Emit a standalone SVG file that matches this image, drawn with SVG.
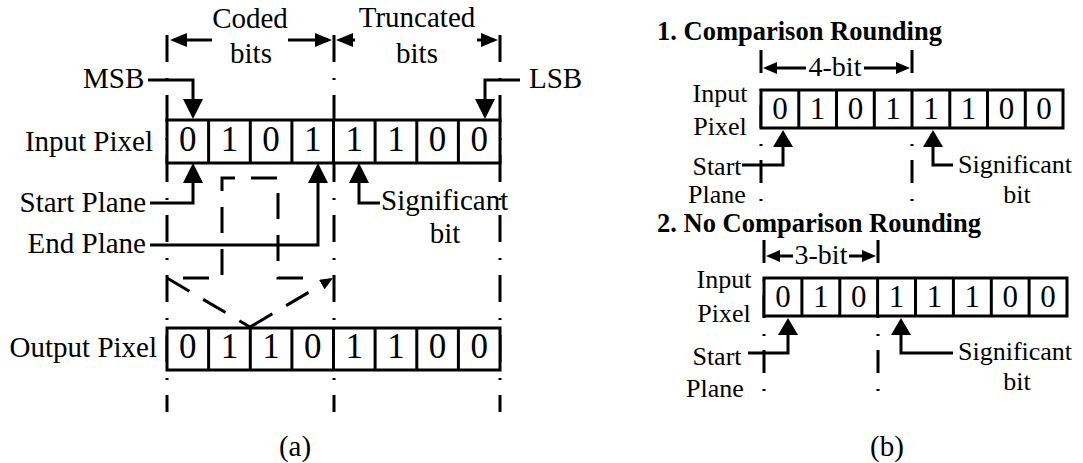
<svg xmlns="http://www.w3.org/2000/svg" width="1083" height="463" viewBox="0 0 1083 463">
  <style>
    text { font-family: "Liberation Serif", "Times New Roman", serif; fill: #000; }
    .lbl { font-size: 29px; }
    .lbl-b { font-size: 26px; }
    .span-b { font-size: 28px; text-anchor: middle; }
    .dig { font-size: 35px; text-anchor: middle; }
    .dig-b { font-size: 31px; text-anchor: middle; }
    .ttl { font-size: 26.5px; font-weight: bold; }
    .mid { text-anchor: middle; }
    .end { text-anchor: end; }
    .cell { fill: #fff; stroke: #000; stroke-width: 3; }
    .wire { fill: none; stroke: #000; stroke-width: 3; }
    .dd-a { fill: none; stroke: #000; stroke-width: 3; stroke-dasharray: 27 16 2 15; }
    .dd-b { fill: none; stroke: #000; stroke-width: 3; stroke-dasharray: 23 16 2 14; }
    .dash { fill: none; stroke: #000; stroke-width: 3; stroke-dasharray: 26 16; }
  </style>
  <defs>
    <!-- arrowheads: tip sits a few px past the line end -->
    <marker id="ah-a" viewBox="0 0 20 20" markerWidth="20" markerHeight="20" refX="16" refY="10" orient="auto" markerUnits="userSpaceOnUse">
      <path d="M0,0 L20,10 L0,20 z"/>
    </marker>
    <marker id="ah-span" viewBox="0 0 17 14" markerWidth="17" markerHeight="14" refX="13" refY="7" orient="auto" markerUnits="userSpaceOnUse">
      <path d="M0,0 L17,7 L0,14 z"/>
    </marker>
    <marker id="ah-dash" viewBox="0 0 13 11" markerWidth="13" markerHeight="11" refX="10" refY="5.5" orient="auto" markerUnits="userSpaceOnUse">
      <path d="M0,0 L13,5.5 L0,11 z"/>
    </marker>
    <marker id="ah-b" viewBox="0 0 17 20" markerWidth="17" markerHeight="20" refX="13" refY="10" orient="auto" markerUnits="userSpaceOnUse">
      <path d="M0,0 L17,10 L0,20 z"/>
    </marker>
    <marker id="ah-span-b" viewBox="0 0 14 12" markerWidth="14" markerHeight="12" refX="10" refY="6" orient="auto" markerUnits="userSpaceOnUse">
      <path d="M0,0 L14,6 L0,12 z"/>
    </marker>
  </defs>

  <rect width="1083" height="463" fill="#fff"/>

  <!-- ===== (a) ===== -->
  <g id="a-guides">
    <line class="dd-a" x1="167" y1="35" x2="167" y2="412"/>
    <line class="dd-a" x1="334" y1="35" x2="334" y2="412"/>
    <line class="dd-a" x1="500" y1="35" x2="500" y2="412"/>
  </g>

  <g id="a-span-labels">
    <text class="lbl mid" x="250" y="28">Coded</text>
    <text class="lbl mid" x="251" y="63">bits</text>
    <text class="lbl mid" x="417" y="27">Truncated</text>
    <text class="lbl mid" x="417" y="63">bits</text>
  </g>

  <g id="a-input-pixel">
    <text class="lbl end" x="153" y="151">Input Pixel</text>
    <rect class="cell" x="167" y="120" width="333" height="43"/>
    <path class="wire" d="M208.6,120V163M250.3,120V163M291.9,120V163M333.5,120V163M375.1,120V163M416.8,120V163M458.4,120V163"/>
    <text class="dig" y="151"><tspan x="187.8">0</tspan><tspan x="229.4">1</tspan><tspan x="271.1">0</tspan><tspan x="312.7">1</tspan><tspan x="354.3">1</tspan><tspan x="395.9">1</tspan><tspan x="437.6">0</tspan><tspan x="479.2">0</tspan></text>
  </g>

  <g id="a-output-pixel">
    <text class="lbl end" x="157" y="357">Output Pixel</text>
    <rect class="cell" x="167" y="328" width="333" height="42"/>
    <path class="wire" d="M208.6,328V370M250.3,328V370M291.9,328V370M333.5,328V370M375.1,328V370M416.8,328V370M458.4,328V370"/>
    <text class="dig" y="358"><tspan x="187.8">0</tspan><tspan x="229.4">1</tspan><tspan x="271.1">1</tspan><tspan x="312.7">0</tspan><tspan x="354.3">1</tspan><tspan x="395.9">1</tspan><tspan x="437.6">0</tspan><tspan x="479.2">0</tspan></text>
  </g>

  <g id="a-msb"><text class="lbl" x="83" y="88">MSB</text></g>
  <g id="a-lsb"><text class="lbl" x="529" y="88">LSB</text></g>
  <g id="a-start-plane"><text class="lbl end" x="146" y="212">Start Plane</text></g>
  <g id="a-end-plane"><text class="lbl end" x="146" y="253">End Plane</text></g>
  <g id="a-significant">
    <text class="lbl" x="381" y="210">Significant</text>
    <text class="lbl mid" x="445" y="243">bit</text>
  </g>
  <g id="a-caption"><text class="lbl mid" x="295" y="456">(a)</text></g>

  <g id="a-connectors">
    <line class="wire" x1="212" y1="40" x2="174" y2="40" marker-end="url(#ah-span)"/>
    <line class="wire" x1="288" y1="40" x2="328" y2="40" marker-end="url(#ah-span)"/>
    <line class="wire" x1="355" y1="40" x2="340" y2="40" marker-end="url(#ah-span)"/>
    <line class="wire" x1="477" y1="40" x2="494" y2="40" marker-end="url(#ah-span)"/>
    <polyline class="wire" points="148,80 193,80 193,115" marker-end="url(#ah-a)"/>
    <polyline class="wire" points="520,80 485,80 485,115" marker-end="url(#ah-a)"/>
    <polyline class="wire" points="150,203 193,203 193,167" marker-end="url(#ah-a)"/>
    <polyline class="wire" points="150,245 318,245 318,167" marker-end="url(#ah-a)"/>
    <polyline class="wire" points="380,203 359,203 359,167" marker-end="url(#ah-a)"/>
    <!-- dashed regrouping path between the two pixels -->
    <path class="dash" d="M303,278 H278 V178 H222 V278 H167 L250,327"/>
    <path class="dash" d="M250,327 L330.4,279.5" marker-end="url(#ah-dash)"/>
  </g>

  <!-- ===== (b) ===== -->
  <g id="b-guides">
    <line class="dd-b" x1="761" y1="50" x2="761" y2="201"/>
    <line class="dd-b" x1="912" y1="50" x2="912" y2="201"/>
    <line class="dd-b" x1="764" y1="240" x2="764" y2="391"/>
    <line class="dd-b" x1="878" y1="240" x2="878" y2="391"/>
  </g>

  <g id="b1-title"><text class="ttl" x="657" y="40">1. Comparison Rounding</text></g>
  <g id="b1-span"><text class="span-b" x="835" y="76">4-bit</text></g>
  <g id="b1-input-pixel">
    <text class="lbl-b mid" x="720" y="102">Input</text>
    <text class="lbl-b mid" x="720" y="135">Pixel</text>
    <rect class="cell" x="761" y="90" width="302" height="38"/>
    <path class="wire" d="M798.8,90V128M836.5,90V128M874.3,90V128M912,90V128M949.8,90V128M987.5,90V128M1025.3,90V128"/>
    <text class="dig-b" y="119"><tspan x="779.9">0</tspan><tspan x="817.6">1</tspan><tspan x="855.4">0</tspan><tspan x="893.1">1</tspan><tspan x="930.9">1</tspan><tspan x="968.6">1</tspan><tspan x="1006.4">0</tspan><tspan x="1044.1">0</tspan></text>
  </g>
  <g id="b1-start-plane">
    <text class="lbl-b mid" x="717" y="175">Start</text>
    <text class="lbl-b mid" x="717" y="203">Plane</text>
  </g>
  <g id="b1-significant">
    <text class="lbl-b" x="958" y="173">Significant</text>
    <text class="lbl-b mid" x="1017" y="203">bit</text>
  </g>

  <g id="b2-title"><text class="ttl" x="657" y="232">2. No Comparison Rounding</text></g>
  <g id="b2-span"><text class="span-b" x="821" y="264">3-bit</text></g>
  <g id="b2-input-pixel">
    <text class="lbl-b mid" x="724" y="288">Input</text>
    <text class="lbl-b mid" x="724" y="322">Pixel</text>
    <rect class="cell" x="764" y="278" width="303" height="38"/>
    <path class="wire" d="M801.9,278V316M839.8,278V316M877.6,278V316M915.5,278V316M953.4,278V316M991.3,278V316M1029.1,278V316"/>
    <text class="dig-b" y="307"><tspan x="782.9">0</tspan><tspan x="820.8">1</tspan><tspan x="858.7">0</tspan><tspan x="896.6">1</tspan><tspan x="934.4">1</tspan><tspan x="972.3">1</tspan><tspan x="1010.2">0</tspan><tspan x="1048.1">0</tspan></text>
  </g>
  <g id="b2-start-plane">
    <text class="lbl-b mid" x="717" y="365">Start</text>
    <text class="lbl-b mid" x="715" y="397">Plane</text>
  </g>
  <g id="b2-significant">
    <text class="lbl-b" x="958" y="360">Significant</text>
    <text class="lbl-b mid" x="1017" y="390">bit</text>
  </g>
  <g id="b-caption"><text class="lbl mid" x="887" y="456">(b)</text></g>

  <g id="b-connectors">
    <line class="wire" x1="806" y1="68" x2="767" y2="68" marker-end="url(#ah-span-b)"/>
    <line class="wire" x1="864" y1="68" x2="906" y2="68" marker-end="url(#ah-span-b)"/>
    <line class="wire" x1="793" y1="256" x2="770" y2="256" marker-end="url(#ah-span-b)"/>
    <line class="wire" x1="849" y1="256" x2="872" y2="256" marker-end="url(#ah-span-b)"/>
    <polyline class="wire" points="742,165 783,165 783,134" marker-end="url(#ah-b)"/>
    <polyline class="wire" points="953,165 933,165 933,134" marker-end="url(#ah-b)"/>
    <polyline class="wire" points="748,353 788,353 788,322" marker-end="url(#ah-b)"/>
    <polyline class="wire" points="953,353 901,353 901,322" marker-end="url(#ah-b)"/>
  </g>
</svg>
